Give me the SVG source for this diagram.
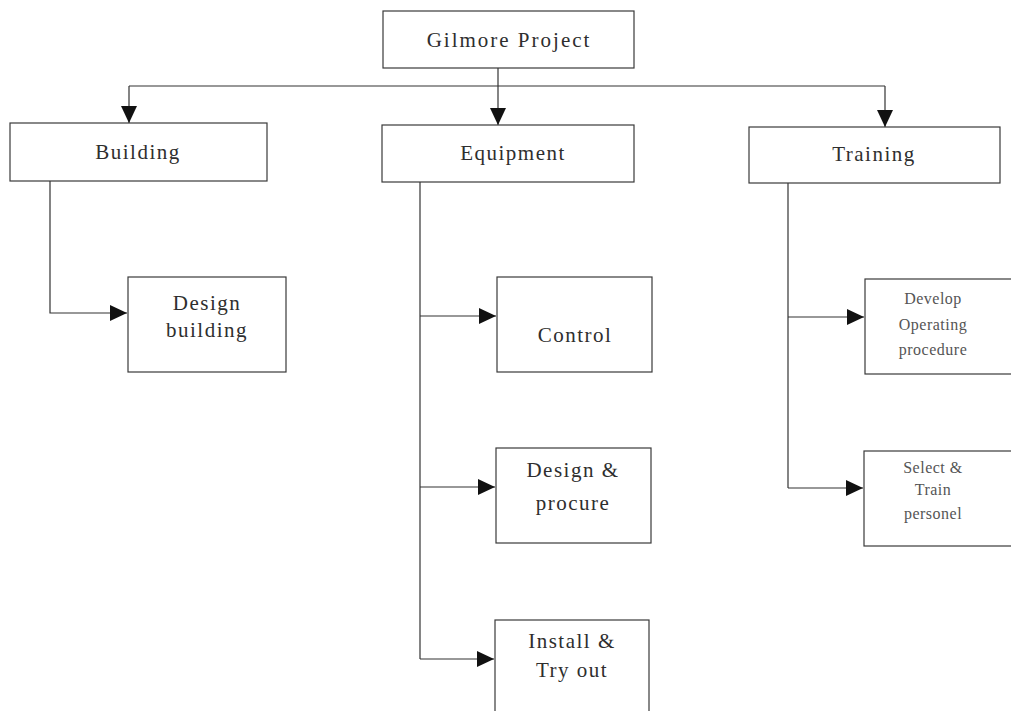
<svg xmlns="http://www.w3.org/2000/svg" width="1011" height="711" viewBox="0 0 1011 711">
<style>
.box{fill:#fff;stroke:#3a3a3a;stroke-width:1.2}
.t{font-family:"Liberation Serif","Times New Roman",serif;font-size:21px;fill:#2e2e2e;text-anchor:middle;letter-spacing:1.5px}
.g{letter-spacing:2px}
.s{font-family:"Liberation Serif","Times New Roman",serif;font-size:16px;fill:#555;text-anchor:middle;letter-spacing:0.5px}
.c{fill:none;stroke:#333;stroke-width:1.2}
</style>
<defs>
<marker id="ah" markerUnits="userSpaceOnUse" markerWidth="18" markerHeight="18" viewBox="0 0 18 18" refX="17" refY="9" orient="auto">
<path d="M0,1 L17,9 L0,17 Z" fill="#111"/>
</marker>
</defs>
<rect width="1011" height="711" fill="#fff"/>
<g id="connectors">
<path class="c" d="M498,68 V86"/>
<path class="c" d="M129,86 H885"/>
<path class="c" d="M129,86 V123" marker-end="url(#ah)"/>
<path class="c" d="M498,86 V125" marker-end="url(#ah)"/>
<path class="c" d="M885,86 V127" marker-end="url(#ah)"/>
<path class="c" d="M50,181 V313 H127" marker-end="url(#ah)"/>
<path class="c" d="M420,182 V659"/>
<path class="c" d="M420,316 H496" marker-end="url(#ah)"/>
<path class="c" d="M420,487 H495" marker-end="url(#ah)"/>
<path class="c" d="M420,659 H494" marker-end="url(#ah)"/>
<path class="c" d="M788,183 V488"/>
<path class="c" d="M788,317 H864" marker-end="url(#ah)"/>
<path class="c" d="M788,488 H863" marker-end="url(#ah)"/>
</g>
<g id="gilmore">
<rect class="box" x="383" y="11" width="251" height="57"/>
<text class="t g" x="509" y="47">Gilmore Project</text>
</g>
<g id="building">
<rect class="box" x="10" y="123" width="257" height="58"/>
<text class="t" x="138" y="159">Building</text>
</g>
<g id="equipment">
<rect class="box" x="382" y="125" width="252" height="57"/>
<text class="t" x="513" y="160">Equipment</text>
</g>
<g id="training">
<rect class="box" x="749" y="127" width="251" height="56"/>
<text class="t" x="874" y="161">Training</text>
</g>
<g id="design-building">
<rect class="box" x="128" y="277" width="158" height="95"/>
<text class="t" x="207" y="310">Design</text>
<text class="t" x="207" y="337">building</text>
</g>
<g id="control">
<rect class="box" x="497" y="277" width="155" height="95"/>
<text class="t" x="575" y="342">Control</text>
</g>
<g id="design-procure">
<rect class="box" x="496" y="448" width="155" height="95"/>
<text class="t" x="573" y="477">Design &amp;</text>
<text class="t" x="573" y="510">procure</text>
</g>
<g id="install">
<rect class="box" x="495" y="620" width="154" height="100"/>
<text class="t" x="572" y="648">Install &amp;</text>
<text class="t" x="572" y="677">Try out</text>
</g>
<g id="develop">
<rect class="box" x="865" y="279" width="150" height="95"/>
<text class="s" x="933" y="304">Develop</text>
<text class="s" x="933" y="330">Operating</text>
<text class="s" x="933" y="355">procedure</text>
</g>
<g id="select">
<rect class="box" x="864" y="451" width="151" height="95"/>
<text class="s" x="933" y="473">Select &amp;</text>
<text class="s" x="933" y="495">Train</text>
<text class="s" x="933" y="519">personel</text>
</g>
</svg>
